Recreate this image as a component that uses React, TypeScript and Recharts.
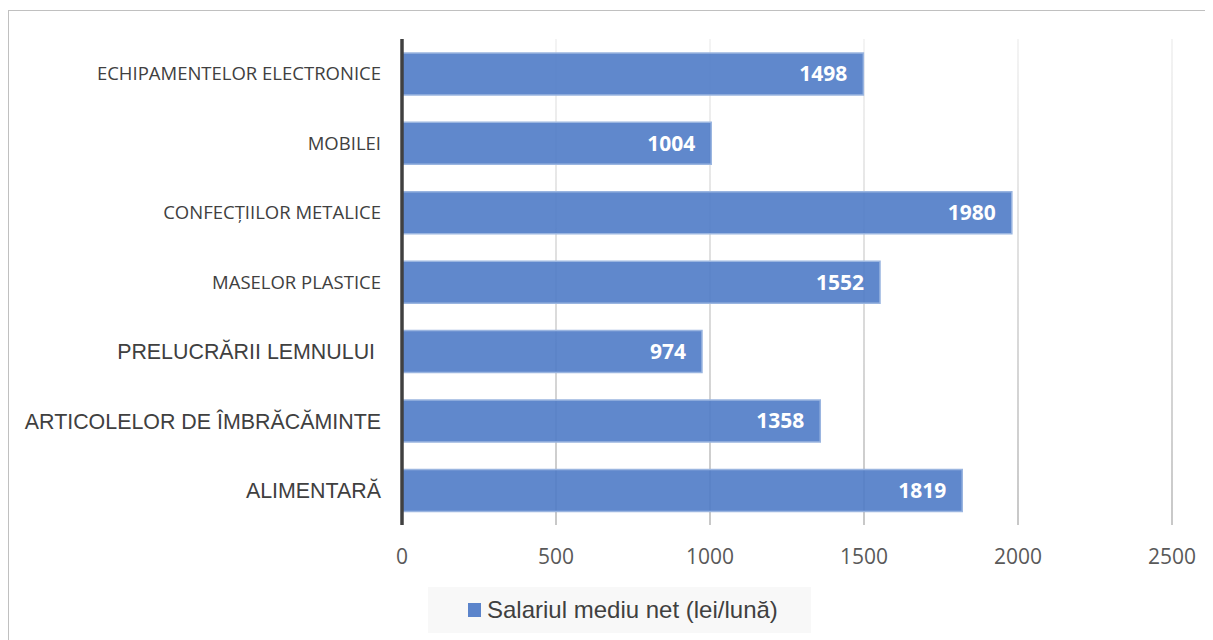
import React from 'react';
import { BarChart, Bar, XAxis, YAxis, CartesianGrid, LabelList, Legend } from 'recharts';

const categories = [
  'ECHIPAMENTELOR ELECTRONICE',
  'MOBILEI',
  'CONFECȚIILOR METALICE',
  'MASELOR PLASTICE',
  'PRELUCRĂRII LEMNULUI ',
  'ARTICOLELOR DE ÎMBRĂCĂMINTE',
  'ALIMENTARĂ',
];
const salaries = [1498, 1004, 1980, 1552, 974, 1358, 1819];
const xTicks = [0, 500, 1000, 1500, 2000, 2500];
const seriesName = 'Salariul mediu net (lei/lună)';

const data = categories.map((name, i) => ({ name, value: salaries[i] }));

const CategoryTick = (props: any) => {
  const { x, y, payload } = props;
  const idx = categories.indexOf(payload.value);
  const arial = idx >= 4;
  return (
    <text
      x={x}
      y={y}
      dy="0.36em"
      textAnchor="end"
      fill="#404040"
      style={{
        fontFamily: arial ? '"Liberation Sans", Arial, sans-serif' : '"Open Sans", sans-serif',
        fontSize: arial ? 21.4 : 18.5,
        whiteSpace: 'pre',
      }}
    >
      {payload.value}
    </text>
  );
};

const renderLegend = () => (
  <div
    style={{
      width: 383,
      height: 46,
      background: '#f8f8f8',
      display: 'flex',
      alignItems: 'center',
      boxSizing: 'border-box',
      paddingLeft: 40,
    }}
  >
    <span style={{ display: 'inline-block', width: 13, height: 14, background: '#5b84cb', marginRight: 6 }} />
    <span style={{ fontFamily: '"Liberation Sans", Arial, sans-serif', fontSize: 24, color: '#404040' }}>
      {seriesName}
    </span>
  </div>
);

export default function App() {
  return (
    <div style={{ position: 'relative', width: 1205, height: 632, overflow: 'hidden', background: '#fff' }}>
      <style>{`html,body{overflow:hidden}`}</style>
      <div
        style={{
          position: 'absolute',
          left: 0,
          top: 2,
          width: 1400,
          height: 800,
          borderLeft: '1.5px solid #c0c0c0',
          borderTop: '1.5px solid #c0c0c0',
        }}
      />
      <div style={{ position: 'absolute', left: 0, top: 0 }}>
        <BarChart
          width={1205}
          height={632}
          data={data}
          layout="vertical"
          margin={{ top: 31, right: 41, bottom: 55, left: 0 }}
          barCategoryGap="20%"
        >
          <defs>
            <linearGradient id="gridGrad" gradientUnits="userSpaceOnUse" x1="0" y1="31" x2="0" y2="517">
              <stop offset="0%" stopColor="#ececec" />
              <stop offset="100%" stopColor="#a3a3a3" />
            </linearGradient>
          </defs>
          <CartesianGrid horizontal={false} stroke="url(#gridGrad)" strokeWidth={1.2} />
          <XAxis
            type="number"
            domain={[0, 2500]}
            ticks={xTicks}
            axisLine={false}
            tickLine={false}
            tickSize={0}
            tickMargin={24}
            height={60}
            tick={{ fill: '#595959', fontSize: 21, fontFamily: '"Open Sans", sans-serif' }}
          />
          <YAxis
            type="category"
            dataKey="name"
            width={394}
            tickLine={false}
            tickSize={0}
            tickMargin={21}
            axisLine={{ stroke: '#404040', strokeWidth: 3.5 }}
            tick={<CategoryTick />}
            interval={0}
          />
          <Legend
            content={renderLegend}
            layout="horizontal"
            verticalAlign="middle"
            align="center"
            wrapperStyle={{ left: 420, top: 579, width: 383, height: 46 }}
          />
          <Bar
            dataKey="value"
            name={seriesName}
            fill="#4f7bc6"
            fillOpacity={0.9}
            stroke="#9ab5e0"
            strokeWidth={1.5}
            isAnimationActive={false}
          >
            <LabelList
              dataKey="value"
              position="insideRight"
              offset={16}
              fill="#ffffff"
              style={{ fontFamily: '"Open Sans", sans-serif', fontWeight: 700, fontSize: 21 }}
            />
          </Bar>
        </BarChart>
      </div>
    </div>
  );
}
